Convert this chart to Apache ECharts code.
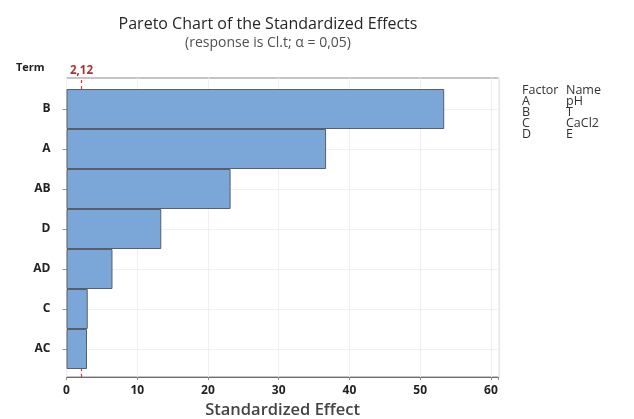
<!DOCTYPE html>
<html>
<head>
<meta charset="utf-8">
<script src="https://cdn.jsdelivr.net/npm/echarts@6/dist/echarts.min.js"></script>
<style>
  html, body { margin: 0; padding: 0; background: #fff; }
  #chart { width: 634px; height: 419px; }
</style>
</head>
<body>
<div id="chart"></div>
<script>
// Terms, ordered from largest to smallest standardized effect
const terms = ['B', 'A', 'AB', 'D', 'AD', 'C', 'AC'];
const effects = [53.4, 36.7, 23.2, 13.4, 6.5, 3.0, 2.9];

// Critical value of the t-test at alpha = 0.05
const criticalValue = 2.12;
const criticalLabel = '2,12';

// X axis
const xMin = 0;
const xMax = 61.1;
const xInterval = 10;

// Factor key shown at the right
const factorCodes = ['A', 'B', 'C', 'D'];
const factorNames = ['pH', 'T', 'CaCl2', 'E'];

const FONT = '"Open Sans", "Noto Sans", sans-serif';
const chart = echarts.init(document.getElementById('chart'));

const plotLeft = 66.5, plotRight = 135.3;

chart.setOption({
  animation: false,
  textStyle: { fontFamily: FONT },
  title: [
    {
      text: 'Pareto Chart of the Standardized Effects',
      left: 263, top: 11, textAlign: 'center',
      textStyle: { fontSize: 16, fontWeight: 'normal', color: '#262626', fontFamily: FONT }
    },
    {
      text: '(response is Cl.t; \u03b1 = 0,05)',
      left: 263, top: 31, textAlign: 'center',
      textStyle: { fontSize: 14, fontWeight: 'normal', color: '#505050', fontFamily: FONT }
    },
    {
      text: 'Term',
      left: 11, top: 57,
      textStyle: { fontSize: 11, fontWeight: 'bold', color: '#222', fontFamily: FONT }
    },
    {
      text: ['Factor'].concat(factorCodes).join('\n'),
      left: 517, top: 80,
      textStyle: { fontSize: 12.5, fontWeight: 'normal', color: '#333', lineHeight: 11, fontFamily: FONT }
    },
    {
      text: ['Name'].concat(factorNames).join('\n'),
      left: 561, top: 80,
      textStyle: { fontSize: 12.5, fontWeight: 'normal', color: '#333', lineHeight: 11, fontFamily: FONT }
    }
  ],
  grid: [
    // Frame with value scale and gridlines
    { left: plotLeft, right: plotRight, top: 78, bottom: 42, outerBoundsMode: 'none', containLabel: false,
      show: true, borderColor: '#8a8a8a', borderWidth: 1, backgroundColor: 'transparent' },
    // Band holding the bars
    { left: plotLeft, right: plotRight, top: 89, height: 280, outerBoundsMode: 'none', containLabel: false }
  ],
  xAxis: [
    {
      gridIndex: 0, type: 'value', min: xMin, max: xMax, interval: xInterval,
      name: 'Standardized Effect', nameLocation: 'middle', nameGap: 25,
      nameTextStyle: { fontSize: 16.5, color: '#444', fontWeight: 600, fontFamily: FONT },
      axisLine: { show: true, lineStyle: { color: '#6e6e6e', width: 1.2 } },
      axisTick: { show: true, length: 3, lineStyle: { color: '#8a8a8a' } },
      axisLabel: { fontSize: 12, fontWeight: 'bold', color: '#222', margin: 8,
        formatter: v => (v % xInterval === 0 ? String(v) : '') },
      splitLine: { show: true, lineStyle: { color: '#efefef' } }
    },
    {
      gridIndex: 1, type: 'value', min: xMin, max: xMax, interval: xInterval,
      show: false
    }
  ],
  yAxis: [
    { gridIndex: 0, type: 'value', min: 0, max: 1, show: false, splitLine: { show: false } },
    {
      gridIndex: 1, type: 'category', data: terms, inverse: true,
      axisLine: { show: false },
      axisTick: { show: true, alignWithLabel: true, length: 4, lineStyle: { color: '#999' } },
      axisLabel: { fontSize: 12, fontWeight: 'bold', color: '#222', margin: 16 },
      splitLine: { show: true, alignWithLabel: true, lineStyle: { color: '#f1f1f1' } }
    }
  ],
  series: [
    {
      // Dashed reference line at the critical value, spanning the frame height
      type: 'line', xAxisIndex: 0, yAxisIndex: 0, z: 1, silent: true,
      showSymbol: true, symbol: 'circle', symbolSize: 0,
      lineStyle: { color: '#e03030', type: [3, 3], width: 1.2 },
      data: [
        [criticalValue, 0],
        {
          value: [criticalValue, 1],
          label: { show: true, position: 'top', formatter: criticalLabel, color: '#a83232',
            fontSize: 11.5, fontWeight: 'bold', distance: 1, fontFamily: FONT }
        }
      ]
    },
    {
      type: 'bar', xAxisIndex: 1, yAxisIndex: 1, data: effects, z: 3,
      barCategoryGap: 0,
      itemStyle: { color: '#7ba6d8', borderColor: '#5a5f66', borderWidth: 1 }
    }
  ]
});
</script>
</body>
</html>
